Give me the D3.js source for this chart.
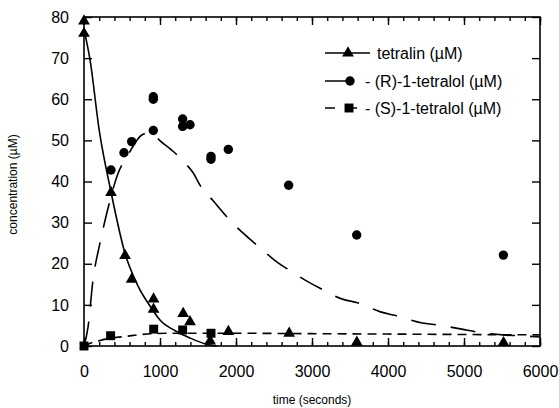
<!DOCTYPE html>
<html>
<head>
<meta charset="utf-8">
<script src="https://cdn.jsdelivr.net/npm/d3@7"></script>
<style>
  body { margin: 0; background: #fff; }
  svg { font-family: "Liberation Sans", Arial, Helvetica, sans-serif; }
</style>
</head>
<body>
<div id="chart"></div>
<script>
// Chart size
const width = 559,
      height = 408;
const margin = {top: 17, right: 19, bottom: 62, left: 84};

// measured points (time in seconds, concentration in uM)
const tetralinTime = [0, 0, 355, 540, 627, 915, 915, 1305, 1395, 1660, 1900, 2700, 3590, 5520];
const tetralinConc = [79, 76, 37.3, 22, 16.2, 11.4, 8.9, 7.9, 5.9, 1.2, 3.5, 3.1, 0.9, 0.8];

const rTime = [355, 526, 627, 912, 912, 912, 1298, 1298, 1395, 1671, 1671, 1899, 2693, 3588, 5518];
const rConc = [42.8, 47, 49.7, 60.6, 60, 52.4, 55.2, 53.4, 53.8, 46.1, 45.4, 47.8, 39.1, 27, 22.1];

const sTime = [0, 350, 917, 1298, 1671];
const sConc = [0, 2.5, 4.1, 3.9, 3.1];

// fitted model curves
const tetralinFitTime = [0, 80, 200, 355, 540, 700, 895, 1000, 1200, 1400, 1600, 1750];
const tetralinFitConc = [77, 69.5, 52.5, 37.5, 22.5, 15, 9, 6.3, 3.7, 1.9, 0.5, 0];

const rFitTime = [0, 53, 118, 210, 316, 440, 580, 760, 850, 1040, 1175, 1300, 1440, 1530, 1700, 1920, 2120, 2320, 2540, 2680, 2950, 3100, 3400, 3600, 3900, 4100, 4450, 4660, 4970, 5170, 5510, 5710, 6000];
const rFitConc = [0, 4.6, 16, 25, 33.5, 41.6, 46.5, 51.3, 51.8, 49.3, 47.3, 45, 42, 39, 35.3, 30.6, 27, 23.8, 20.4, 18.7, 15.6, 14.1, 11.4, 10.5, 8.3, 7.4, 5.6, 5.1, 4.1, 3.4, 2.7, 2.5, 2.2];

const sFitTime = [0, 100, 200, 350, 580, 700, 900, 1200, 2000, 3000, 4000, 5000, 6000];
const sFitConc = [0, 0.8, 1.3, 1.9, 2.4, 2.7, 3.0, 3.1, 3.1, 3.0, 2.9, 2.8, 2.7];

// axis ticks
const xMajorTicks = [0, 1000, 2000, 3000, 4000, 5000, 6000];
const xMinorTicks = d3.range(0, 6001, 200);
const yTicks = [0, 10, 20, 30, 40, 50, 60, 70, 80];

const legendLabels = ["tetralin (\u00b5M)", "- (R)-1-tetralol (\u00b5M)", "- (S)-1-tetralol (\u00b5M)"];

const zip = (a, b) => a.map((v, i) => [v, b[i]]);

function drawChart() {
    const svg = d3.select("#chart").append("svg")
        .attr("width", width)
        .attr("height", height);

    const x = d3.scaleLinear().domain([0, 6000]).range([margin.left, width - margin.right]);
    const y = d3.scaleLinear().domain([0, 80]).range([height - margin.bottom, margin.top]);

    const axisStyle = g => {
        g.select(".domain").remove();
        g.selectAll("line").attr("stroke", "#000").attr("stroke-width", 1.4);
        g.selectAll("text").attr("fill", "#000").style("font-size", "16px");
    };

    // bottom axis, major + minor ticks pointing inwards
    svg.append("g")
        .attr("transform", `translate(0,${y(0)})`)
        .call(d3.axisBottom(x).tickValues(xMinorTicks).tickSizeInner(-4).tickSizeOuter(0).tickFormat(""))
        .call(axisStyle);
    svg.append("g")
        .attr("transform", `translate(0,${y(0)})`)
        .call(d3.axisBottom(x).tickValues(xMajorTicks).tickSizeInner(-8).tickSizeOuter(0).tickPadding(20).tickFormat(d3.format("d")))
        .call(axisStyle);

    // top axis
    svg.append("g")
        .attr("transform", `translate(0,${y(80)})`)
        .call(d3.axisTop(x).tickValues(xMinorTicks).tickSizeInner(-4).tickSizeOuter(0).tickFormat(""))
        .call(axisStyle);
    svg.append("g")
        .attr("transform", `translate(0,${y(80)})`)
        .call(d3.axisTop(x).tickValues(xMajorTicks).tickSizeInner(-8).tickSizeOuter(0).tickFormat(""))
        .call(axisStyle);

    // left and right axes
    svg.append("g")
        .attr("transform", `translate(${x(0)},0)`)
        .call(d3.axisLeft(y).tickValues(yTicks).tickSizeInner(-8).tickSizeOuter(0).tickPadding(15))
        .call(axisStyle);
    svg.append("g")
        .attr("transform", `translate(${x(6000)},0)`)
        .call(d3.axisRight(y).tickValues(yTicks).tickSizeInner(-8).tickSizeOuter(0).tickFormat(""))
        .call(axisStyle);

    // frame
    svg.append("rect")
        .attr("x", x(0))
        .attr("y", y(80))
        .attr("width", x(6000) - x(0))
        .attr("height", y(0) - y(80))
        .attr("fill", "none")
        .attr("stroke", "#000")
        .attr("stroke-width", 1.6);

    // axis titles
    svg.append("text")
        .attr("x", (x(0) + x(6000)) / 2)
        .attr("y", 404)
        .attr("text-anchor", "middle")
        .style("font-size", "12px")
        .text("time (seconds)");
    svg.append("text")
        .attr("transform", `translate(17,${(y(0) + y(80)) / 2 + 3}) rotate(-90)`)
        .attr("text-anchor", "middle")
        .style("font-size", "12px")
        .text("concentration (\u00b5M)");

    // fitted curves
    const line = d3.line()
        .x(d => x(d[0]))
        .y(d => y(d[1]))
        .curve(d3.curveMonotoneX);

    const curves = [
        {data: zip(tetralinFitTime, tetralinFitConc), dash: null},
        {data: zip(rFitTime, rFitConc), dash: "25,15"},
        {data: zip(sFitTime, sFitConc), dash: "9,6"}
    ];
    curves.forEach(c => {
        svg.append("path")
            .datum(c.data)
            .attr("d", line)
            .attr("fill", "none")
            .attr("stroke", "#000")
            .attr("stroke-width", 1.6)
            .attr("stroke-dasharray", c.dash);
    });

    // markers
    const triangle = d3.symbol().type(d3.symbolTriangle).size(60);
    const square = d3.symbol().type(d3.symbolSquare).size(80);

    svg.append("g").selectAll("path")
        .data(zip(tetralinTime, tetralinConc))
        .join("path")
        .attr("transform", d => `translate(${x(d[0])},${y(d[1])})`)
        .attr("d", triangle);

    svg.append("g").selectAll("circle")
        .data(zip(rTime, rConc))
        .join("circle")
        .attr("cx", d => x(d[0]))
        .attr("cy", d => y(d[1]))
        .attr("r", 4.7);

    svg.append("g").selectAll("path")
        .data(zip(sTime, sConc))
        .join("path")
        .attr("transform", d => `translate(${x(d[0])},${y(d[1])})`)
        .attr("d", square);

    // legend
    const legend = svg.append("g");
    const rows = [53, 81, 108];

    // tetralin row
    legend.append("line")
        .attr("x1", 325).attr("x2", 370).attr("y1", rows[0]).attr("y2", rows[0])
        .attr("stroke", "#000").attr("stroke-width", 1.5);
    legend.append("path")
        .attr("transform", `translate(348,${rows[0]})`)
        .attr("d", triangle);
    legend.append("text")
        .attr("x", 377).attr("y", rows[0] + 5.5)
        .style("font-size", "16px")
        .text(legendLabels[0]);

    // (R) row
    legend.append("line")
        .attr("x1", 325).attr("x2", 349).attr("y1", rows[1]).attr("y2", rows[1])
        .attr("stroke", "#000").attr("stroke-width", 1.5);
    legend.append("circle")
        .attr("cx", 350).attr("cy", rows[1]).attr("r", 4.7);
    legend.append("text")
        .attr("x", 365).attr("y", rows[1] + 5.5)
        .style("font-size", "16px")
        .text(legendLabels[1]);

    // (S) row
    legend.append("line")
        .attr("x1", 325).attr("x2", 335).attr("y1", rows[2]).attr("y2", rows[2])
        .attr("stroke", "#000").attr("stroke-width", 1.5);
    legend.append("line")
        .attr("x1", 346).attr("x2", 357).attr("y1", rows[2]).attr("y2", rows[2])
        .attr("stroke", "#000").attr("stroke-width", 1.5);
    legend.append("path")
        .attr("transform", `translate(349,${rows[2]})`)
        .attr("d", square);
    legend.append("text")
        .attr("x", 365).attr("y", rows[2] + 5.5)
        .style("font-size", "16px")
        .text(legendLabels[2]);
}

drawChart();
</script>
</body>
</html>
